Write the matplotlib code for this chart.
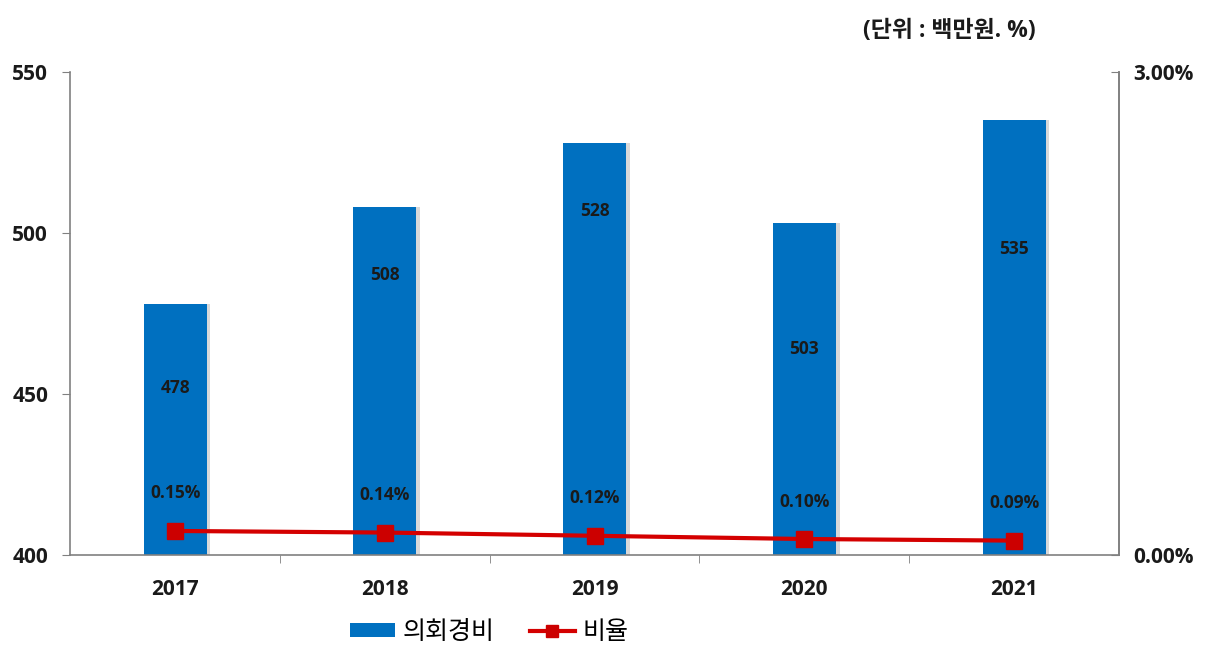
import matplotlib
matplotlib.use("Agg")
import matplotlib.pyplot as plt
from matplotlib.ticker import FuncFormatter, FixedLocator

plt.rcParams['font.family'] = ['Open Sans', 'Noto Sans CJK KR', 'DejaVu Sans']

# data
years = ["2017", "2018", "2019", "2020", "2021"]
council_cost = [478, 508, 528, 503, 535]      # 의회경비 (백만원)
ratio_pct = [0.15, 0.14, 0.12, 0.10, 0.09]    # 비율 (%)

# where the value labels sit inside the bars (left-axis units)
label_y = [452, 487, 507, 464, 495]

bar_color = "#0070C0"
line_color = "#D40000"
axis_color = "#808080"
text_color = "#1a1a1a"

fig = plt.figure(figsize=(12.11, 6.5), dpi=100)
ax = fig.add_axes([0.058, 0.146, 0.866, 0.743])
x = list(range(len(years)))

# soft shadow behind the bars
ax.bar([i + 0.018 for i in x], [v - 400 for v in council_cost], bottom=400,
       width=0.3, color="#d9d9d9", zorder=1)
ax.bar(x, [v - 400 for v in council_cost], bottom=400, width=0.3,
       color=bar_color, zorder=2, label="의회경비")

for i, v in enumerate(council_cost):
    ax.text(i, label_y[i], str(v), ha="center", va="center",
            fontsize=12.5, fontweight="bold", color=text_color, zorder=5)

ax.set_xlim(-0.5, 4.5)
ax.set_ylim(400, 550)
ax.set_yticks([400, 450, 500, 550])
ax.set_xticks(x)
ax.set_xticklabels(years)
ax.xaxis.set_minor_locator(FixedLocator([0.5, 1.5, 2.5, 3.5]))
ax.tick_params(axis="x", which="major", length=0, pad=17)
ax.tick_params(axis="x", which="minor", length=6, color=axis_color, direction="out")
ax.tick_params(axis="y", length=6, color=axis_color, direction="out", pad=10)
for lbl in ax.get_xticklabels() + ax.get_yticklabels():
    lbl.set_fontsize(15)
    lbl.set_fontweight("bold")
    lbl.set_color(text_color)

ax.spines["top"].set_visible(False)
for s in ["left", "bottom", "right"]:
    ax.spines[s].set_color(axis_color)
    ax.spines[s].set_linewidth(1.2)

# ratio line on the right axis
ax2 = ax.twinx()
ax2.plot(x, ratio_pct, color=line_color, linewidth=3, marker="s",
         markersize=12, markerfacecolor="#cc0000", markeredgecolor="#cc0000",
         zorder=4, label="비율")
for i, r in enumerate(ratio_pct):
    ax2.annotate(f"{r:.2f}%", (i, r), xytext=(0, 27), textcoords="offset points",
                 ha="center", va="center", fontsize=12.5, fontweight="bold",
                 color=text_color)
ax2.set_ylim(0, 3)
ax2.set_yticks([0, 3])
ax2.yaxis.set_major_formatter(FuncFormatter(lambda v, p: f"{v:.2f}%"))
ax2.tick_params(axis="y", length=6, color=axis_color, direction="in", pad=10)
for lbl in ax2.get_yticklabels():
    lbl.set_fontsize(15)
    lbl.set_fontweight("bold")
    lbl.set_color(text_color)
for s in ["top", "left", "bottom"]:
    ax2.spines[s].set_visible(False)
ax2.spines["right"].set_color(axis_color)
ax2.spines["right"].set_linewidth(1.2)

fig.text(0.855, 0.952, "(단위 : 백만원. %)", ha="right", va="center",
         fontsize=16.5, fontweight="bold", color=text_color)

h1, l1 = ax.get_legend_handles_labels()
h2, l2 = ax2.get_legend_handles_labels()
fig.legend(h1 + h2, l1 + l2, loc="center", bbox_to_anchor=(0.404, 0.027),
           ncol=2, frameon=False, fontsize=18, handlelength=1.8,
           handleheight=0.45, columnspacing=1.4, handletextpad=0.3,
           markerscale=0.7)

fig.savefig("out.png", dpi=100)
